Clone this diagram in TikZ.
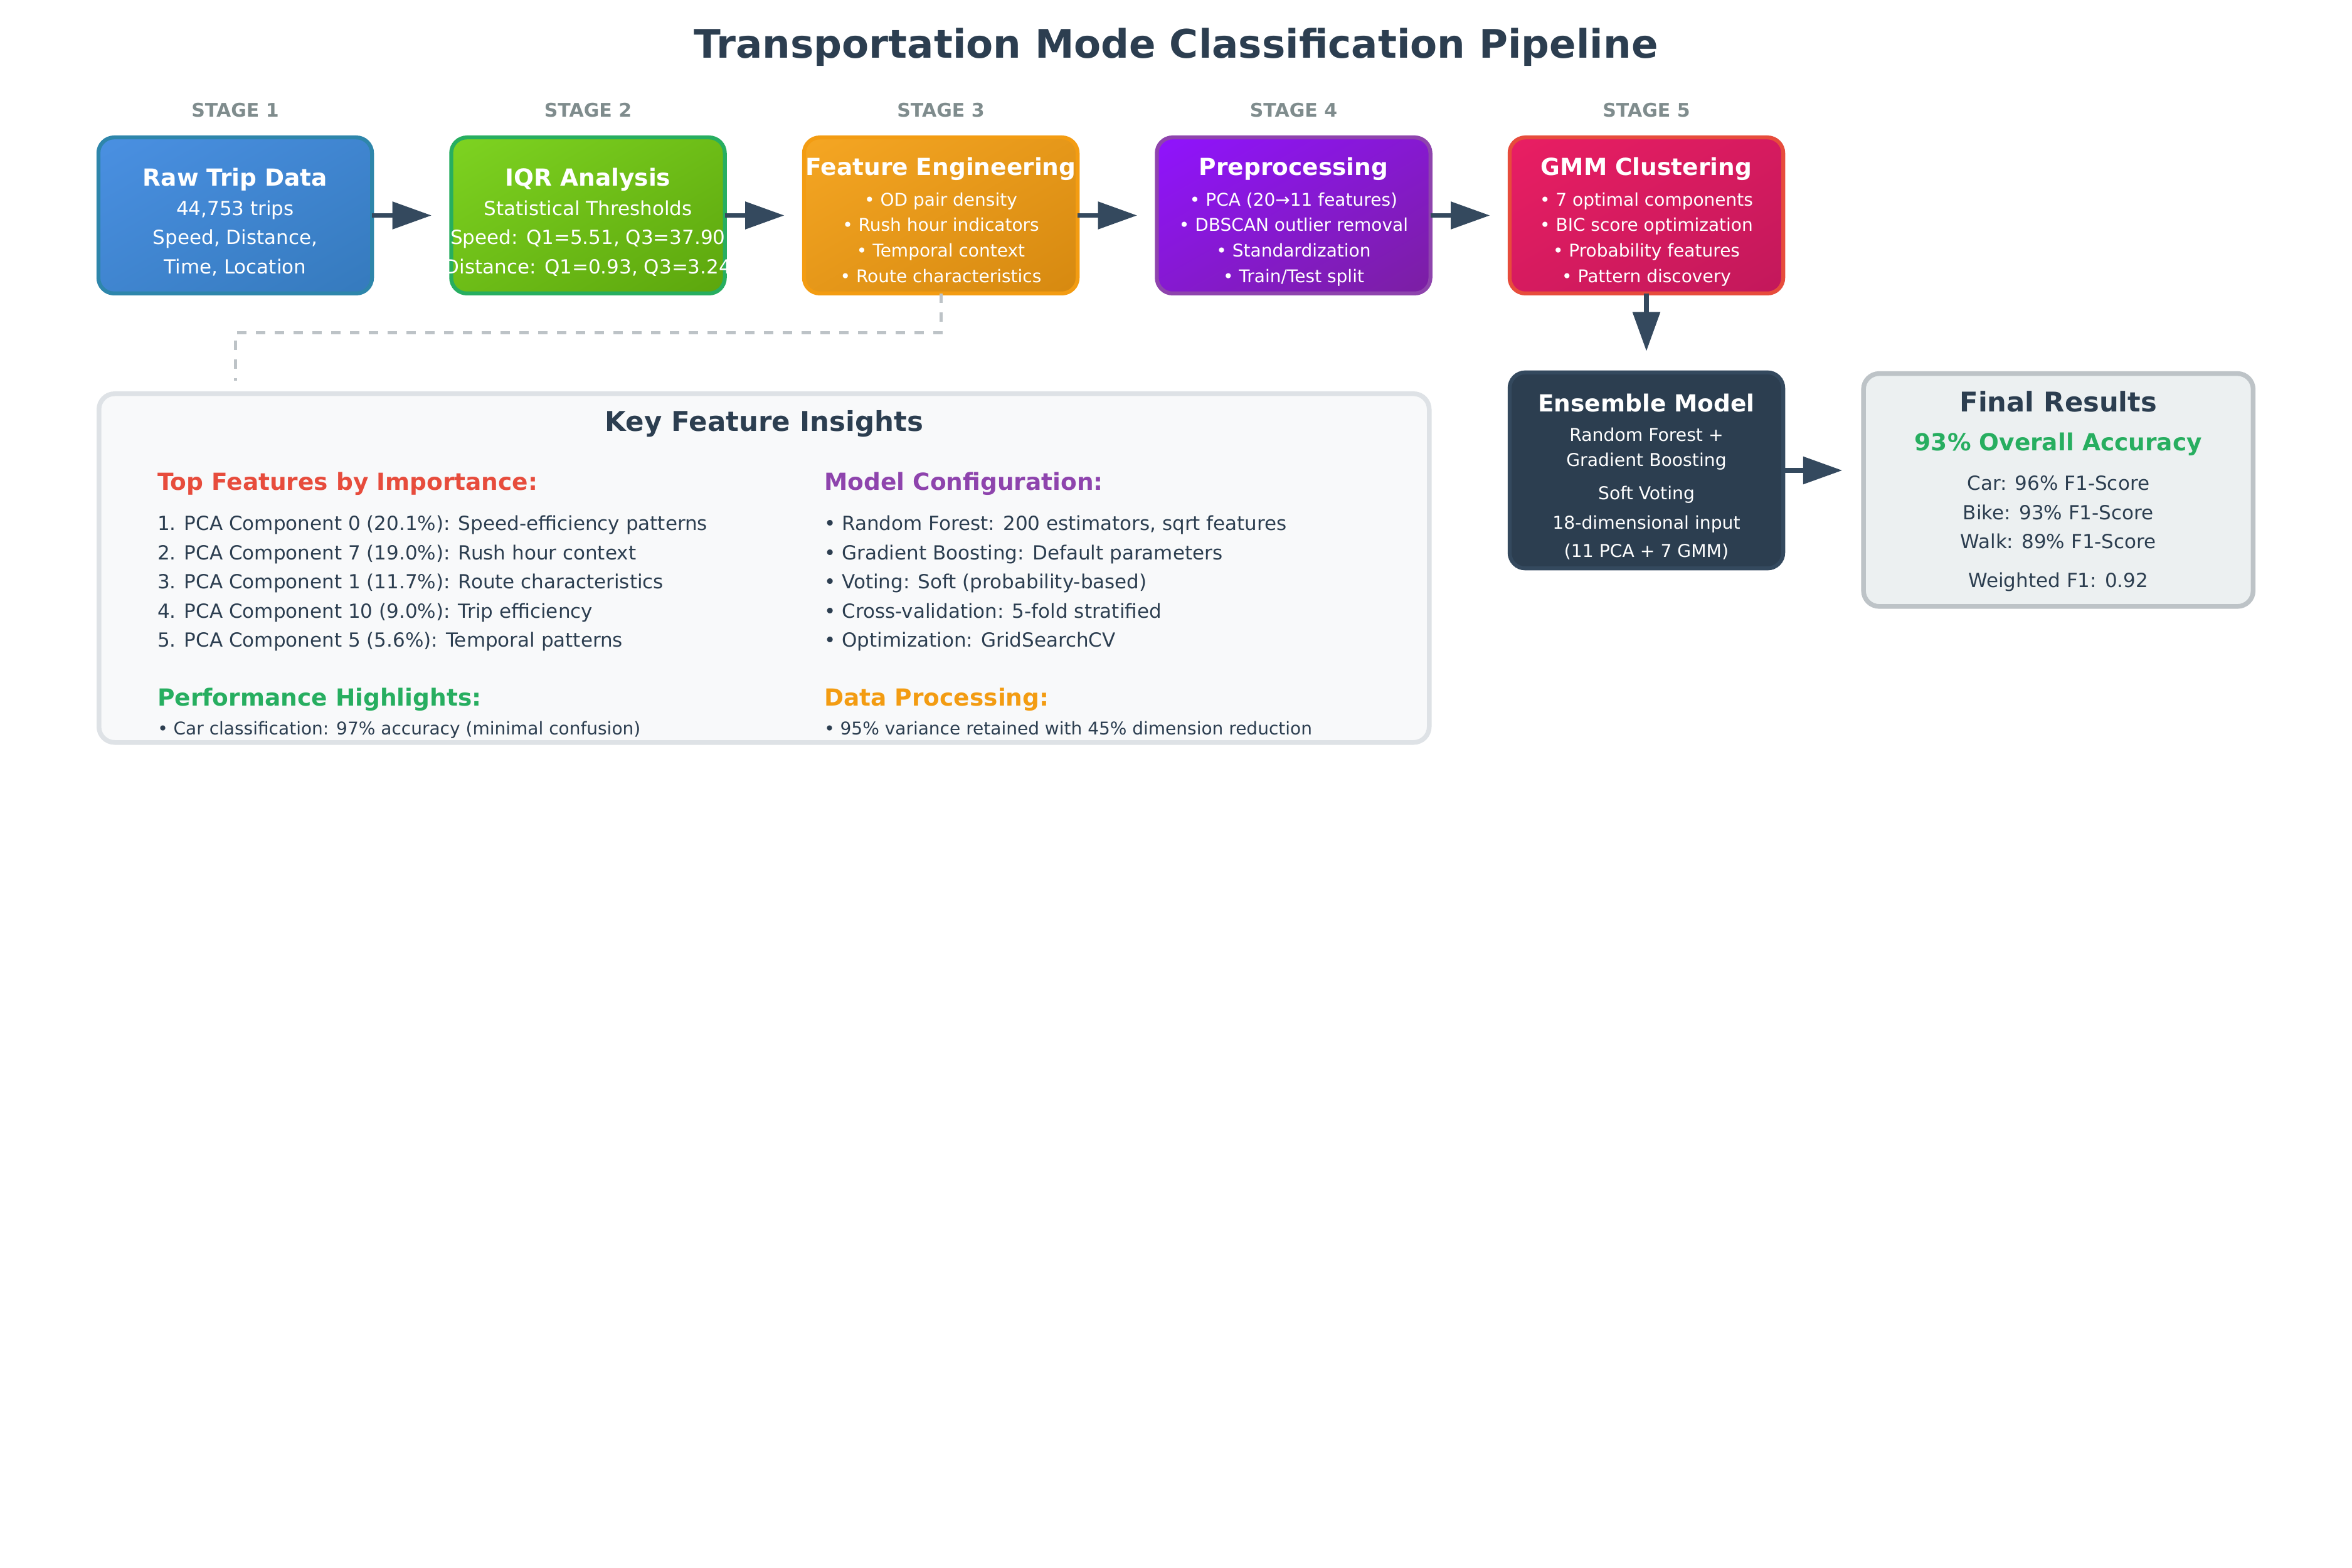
\documentclass[tikz,border=0pt]{standalone}
\usepackage{fontspec}
\setmainfont{DejaVu Sans}
\usetikzlibrary{arrows.meta,shadings}

% palette
\definecolor{ink}{HTML}{2C3E50}
\definecolor{slate}{HTML}{34495E}
\definecolor{stagegray}{HTML}{7F8C8D}
\definecolor{dashgray}{HTML}{BDC3C7}
\definecolor{blueA}{HTML}{4A90E2}\definecolor{blueB}{HTML}{357ABD}\definecolor{blueS}{HTML}{2E86AB}
\definecolor{greenA}{HTML}{7ED321}\definecolor{greenB}{HTML}{5CA60D}\definecolor{greenS}{HTML}{27AE60}
\definecolor{orangeA}{HTML}{F5A623}\definecolor{orangeB}{HTML}{D68910}\definecolor{orangeS}{HTML}{F39C12}
\definecolor{purpleA}{HTML}{9013FE}\definecolor{purpleB}{HTML}{7B1FA2}\definecolor{purpleS}{HTML}{8E44AD}
\definecolor{pinkA}{HTML}{E91E63}\definecolor{pinkB}{HTML}{C2185B}\definecolor{pinkS}{HTML}{E74C3C}
\definecolor{panelfill}{HTML}{F8F9FA}\definecolor{panelline}{HTML}{DEE2E6}
\definecolor{resultfill}{HTML}{ECF0F1}
\definecolor{redhead}{HTML}{E74C3C}\definecolor{greenhead}{HTML}{27AE60}
\definecolor{purplehead}{HTML}{8E44AD}\definecolor{orangehead}{HTML}{F39C12}

\tikzset{
  stagebox/.style={rounded corners=10pt, minimum width=174.5pt, minimum height=99.5pt,
    line width=2.5pt, inner sep=0pt, outer sep=0pt},
  gradfill/.style n args={3}{draw=#3, upper left=#1, lower right=#2,
    upper right=#1!50!#2, lower left=#1!50!#2},
  stagelabel/.style={anchor=base, inner sep=0pt, text=stagegray,
    font=\bfseries\fontsize{12}{14}\selectfont},
  boxtitle/.style={anchor=base, inner sep=0pt, text=white,
    font=\bfseries\fontsize{15}{18}\selectfont},
  boxline/.style={anchor=base, inner sep=0pt, text=white,
    font=\fontsize{12.4}{15}\selectfont},
  boxbullet/.style={anchor=base, inner sep=0pt, text=white,
    font=\fontsize{11.2}{13}\selectfont},
  enslines/.style={anchor=base, inner sep=0pt, text=white,
    font=\fontsize{11.3}{13}\selectfont},
  flow/.style={draw=slate, line width=3pt, -{Triangle[length=25pt,width=17pt]}},
  dashlink/.style={draw=dashgray, line width=2pt, dash pattern=on 6pt off 6pt},
  panelhead/.style={anchor=base west, inner sep=0pt,
    font=\bfseries\fontsize{15}{17}\selectfont},
  panelitem/.style={anchor=base west, inner sep=0pt, text=ink,
    font=\fontsize{12.4}{15}\selectfont},
  panelsmall/.style={anchor=base west, inner sep=0pt, text=ink,
    font=\fontsize{11.2}{13}\selectfont},
  resline/.style={anchor=base, inner sep=0pt, text=ink,
    font=\fontsize{12.4}{15}\selectfont},
}

\begin{document}
\begin{tikzpicture}[x=1pt,y=-1pt]
\fill[white] (0,0) rectangle (1500,1000);
\useasboundingbox (0,0) rectangle (1500,1000);

% heading
\node[anchor=base, inner sep=0pt, text=ink, font=\bfseries\fontsize{25.1}{28}\selectfont]
  (title) at (750,37.2) {Transportation Mode Classification Pipeline};

% stage captions
\node[stagelabel] (s1) at (150,74.7) {STAGE 1};
\node[stagelabel] (s2) at (375,74.7) {STAGE 2};
\node[stagelabel] (s3) at (600,74.7) {STAGE 3};
\node[stagelabel] (s4) at (825,74.7) {STAGE 4};
\node[stagelabel] (s5) at (1050,74.7) {STAGE 5};

% pipeline stages
\node[stagebox, gradfill={blueA}{blueB}{blueS}]       (b1) at (150,137.4) {};
\node[stagebox, gradfill={greenA}{greenB}{greenS}]    (b2) at (375,137.4) {};
\node[stagebox, gradfill={orangeA}{orangeB}{orangeS}] (b3) at (600,137.4) {};
\node[stagebox, gradfill={purpleA}{purpleB}{purpleS}] (b4) at (825,137.4) {};
\node[stagebox, gradfill={pinkA}{pinkB}{pinkS}]       (b5) at (1050,137.4) {};

\node[boxtitle] (b1t)  at (150,118.7) {Raw Trip Data};
\node[boxline]  (b1l1) at (150,137.3) {44,753 trips};
\node[boxline]  (b1l2) at (150,156.0) {Speed, Distance,};
\node[boxline]  (b1l3) at (150,174.7) {Time, Location};

\node[boxtitle] (b2t)  at (375,118.7) {IQR Analysis};
\node[boxline]  (b2l1) at (375,137.3) {Statistical Thresholds};
\node[boxline]  (b2l2) at (375,156.0) {Speed: Q1=5.51, Q3=37.90};
\node[boxline]  (b2l3) at (375,174.7) {Distance: Q1=0.93, Q3=3.24};

\node[boxtitle]  (b3t)  at (600,112) {Feature Engineering};
\node[boxbullet] (b3l1) at (600,131.3) {• OD pair density};
\node[boxbullet] (b3l2) at (600,147.6) {• Rush hour indicators};
\node[boxbullet] (b3l3) at (600,163.9) {• Temporal context};
\node[boxbullet] (b3l4) at (600,180.2) {• Route characteristics};

\node[boxtitle]  (b4t)  at (825,112) {Preprocessing};
\node[boxbullet] (b4l1) at (825,131.3) {• PCA (20→11 features)};
\node[boxbullet] (b4l2) at (825,147.6) {• DBSCAN outlier removal};
\node[boxbullet] (b4l3) at (825,163.9) {• Standardization};
\node[boxbullet] (b4l4) at (825,180.2) {• Train/Test split};

\node[boxtitle]  (b5t)  at (1050,112) {GMM Clustering};
\node[boxbullet] (b5l1) at (1050,131.3) {• 7 optimal components};
\node[boxbullet] (b5l2) at (1050,147.6) {• BIC score optimization};
\node[boxbullet] (b5l3) at (1050,163.9) {• Probability features};
\node[boxbullet] (b5l4) at (1050,180.2) {• Pattern discovery};

% stage-to-stage flow
\draw[flow, shorten >=12.5pt] (b1.east) -- (b2.west);
\draw[flow, shorten >=12.5pt] (b2.east) -- (b3.west);
\draw[flow, shorten >=12.5pt] (b3.east) -- (b4.west);
\draw[flow, shorten >=12.5pt] (b4.east) -- (b5.west);

% ensemble model
\node[stagebox, minimum height=125pt, fill=ink, draw=slate] (ens) at (1050,300) {};
\node[boxtitle]  (enst)  at (1050,262.7) {Ensemble Model};
\node[enslines] (ensl1) at (1050,281.3) {Random Forest +};
\node[enslines] (ensl2) at (1050,297.3) {Gradient Boosting};
\node[enslines] (ensl3) at (1050,318.7) {Soft Voting};
\node[enslines] (ensl4) at (1050,337.3) {18-dimensional input};
\node[enslines] (ensl5) at (1050,355.5) {(11 PCA + 7 GMM)};

\draw[flow, shorten >=13.5pt] (b5.south) -- (ens.north);

% final results
\node[rounded corners=10pt, minimum width=248.5pt, minimum height=148.5pt, line width=3pt,
  inner sep=0pt, outer sep=0pt, fill=resultfill, draw=dashgray] (fin) at (1312.7,312.5) {};
\node[anchor=base, inner sep=0pt, text=ink, font=\bfseries\fontsize{17.3}{20}\selectfont]
  (fint) at (1312.7,262.7) {Final Results};
\node[anchor=base, inner sep=0pt, text=greenhead, font=\bfseries\fontsize{15}{18}\selectfont]
  (finacc) at (1312.7,287.3) {93\% Overall Accuracy};
\node[resline] (finl1) at (1312.7,312.7) {Car: 96\% F1-Score};
\node[resline] (finl2) at (1312.7,331.3) {Bike: 93\% F1-Score};
\node[resline] (finl3) at (1312.7,350.0) {Walk: 89\% F1-Score};
\node[resline] (finl4) at (1312.7,374.7) {Weighted F1: 0.92};

\draw[flow, shorten >=13.5pt] (ens.east) -- (ens.east -| fin.west);

% insights panel
\node[rounded corners=10pt, minimum width=848.4pt, minimum height=222.4pt, line width=3pt,
  inner sep=0pt, outer sep=0pt, fill=panelfill, draw=panelline] (panel) at (487.3,362.3) {};
\node[anchor=base, inner sep=0pt, text=ink, font=\bfseries\fontsize{17.4}{20}\selectfont]
  (panelt) at (487.3,275) {Key Feature Insights};

\node[panelhead, text=redhead] (toph) at (100.3,312.8) {Top Features by Importance:};
\node[panelitem] (top1) at (100.3,338.3) {1. PCA Component 0 (20.1\%): Speed-efficiency patterns};
\node[panelitem] (top2) at (100.3,356.9) {2. PCA Component 7 (19.0\%): Rush hour context};
\node[panelitem] (top3) at (100.3,375.5) {3. PCA Component 1 (11.7\%): Route characteristics};
\node[panelitem] (top4) at (100.3,394.1) {4. PCA Component 10 (9.0\%): Trip efficiency};
\node[panelitem] (top5) at (100.3,412.7) {5. PCA Component 5 (5.6\%): Temporal patterns};

\node[panelhead, text=greenhead] (perfh) at (100.3,450.0) {Performance Highlights:};
\node[panelsmall] (perf1) at (100.3,468.6) {• Car classification: 97\% accuracy (minimal confusion)};

\node[panelhead, text=purplehead] (cfgh) at (525.5,312.8) {Model Configuration:};
\node[panelitem] (cfg1) at (525.5,338.3) {• Random Forest: 200 estimators, sqrt features};
\node[panelitem] (cfg2) at (525.5,356.9) {• Gradient Boosting: Default parameters};
\node[panelitem] (cfg3) at (525.5,375.5) {• Voting: Soft (probability-based)};
\node[panelitem] (cfg4) at (525.5,394.1) {• Cross-validation: 5-fold stratified};
\node[panelitem] (cfg5) at (525.5,412.7) {• Optimization: GridSearchCV};

\node[panelhead, text=orangehead] (datah) at (525.5,450.0) {Data Processing:};
\node[panelsmall] (data1) at (525.5,468.6) {• 95\% variance retained with 45\% dimension reduction};

% dashed link from feature engineering to the insights panel
\coordinate (dashbend) at (600,212.4);
\coordinate (dashend) at (150,243);
\draw[dashlink] (b3.south) -- (dashbend) -| (dashend);
\end{tikzpicture}
\end{document}
